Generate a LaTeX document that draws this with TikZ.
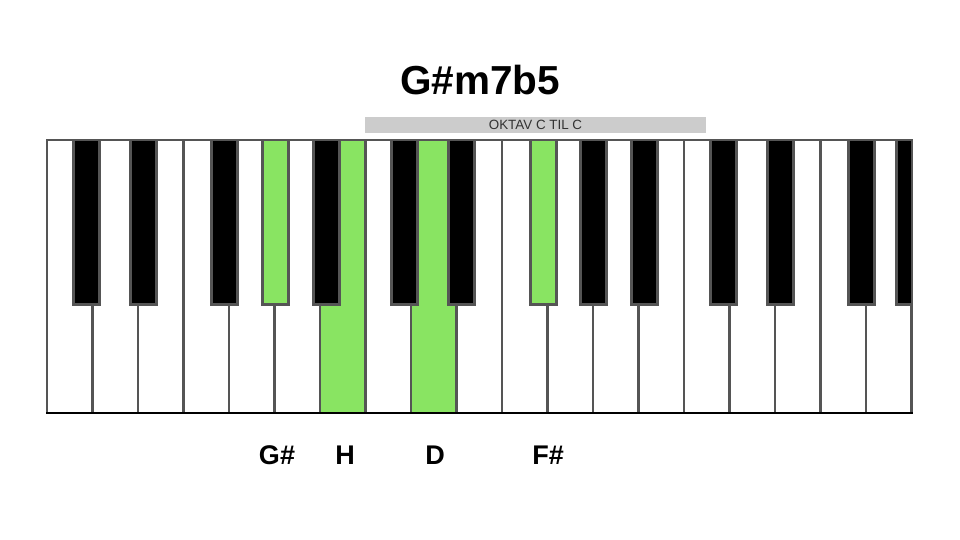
\documentclass[tikz,border=0pt]{standalone}
\usepackage{fontspec}
\setmainfont{Liberation Sans}
\definecolor{keygreen}{RGB}{137,228,98}
\definecolor{keygray}{RGB}{85,85,85}
\definecolor{barfill}{RGB}{204,204,204}
\definecolor{bartext}{RGB}{51,51,51}
\tikzset{
  whitekey/.style={draw=keygray, line width=2.5pt, fill=white},
  greenwhite/.style={draw=keygray, line width=2.5pt, fill=keygreen},
  blackkey/.style={draw=keygray, line width=3pt, fill=black},
  greenblack/.style={draw=keygray, line width=3pt, fill=keygreen},
  notelabel/.style={font=\bfseries\fontsize{27}{32}\selectfont, inner sep=0pt},
}
\begin{document}
\begin{tikzpicture}[x=1pt,y=-1pt]
\useasboundingbox[fill=white] (0,0) rectangle (960,540);
% white keys
\foreach \i in {0,...,18} {
  \draw[whitekey] (47+45.5*\i,140) rectangle ++(45.5,273);
}
\draw[greenwhite] (47+45.5*6,140) rectangle ++(45.5,273);
\draw[greenwhite] (47+45.5*8,140) rectangle ++(45.5,273);
% black keys
\begin{scope}
\clip (47,140) rectangle (911.5,420);
\foreach \c in {86,143,224,326,404.5,461.5,593.5,644.5,723,780,861,909.5} {
  \draw[blackkey] (\c-13,138) rectangle (\c+13,304);
}
\draw[greenblack] (275-13,138) rectangle (275+13,304);
\draw[greenblack] (543-13,138) rectangle (543+13,304);
\end{scope}
% border
\draw[keygray, line width=2pt] (47,140) rectangle (911.5,413);
\draw[black, line width=2pt] (46,413) -- (912.5,413);
% title and bar
\node[font=\bfseries\fontsize{40.5}{48}\selectfont, inner sep=0pt] (title) at (480,80) {G\#m7b5};
\node[fill=barfill, minimum width=341pt, minimum height=16pt, inner sep=0pt,
      font=\fontsize{13.4}{16}\selectfont, text=bartext] (bar) at (535.5,125) {OKTAV C TIL C};
% labels
\node[notelabel] (gis) at (277,455) {G\#};
\node[notelabel] (h) at (345,455) {H};
\node[notelabel] (d) at (435,455) {D};
\node[notelabel] (fis) at (548,455) {F\#};
\end{tikzpicture}
\end{document}
